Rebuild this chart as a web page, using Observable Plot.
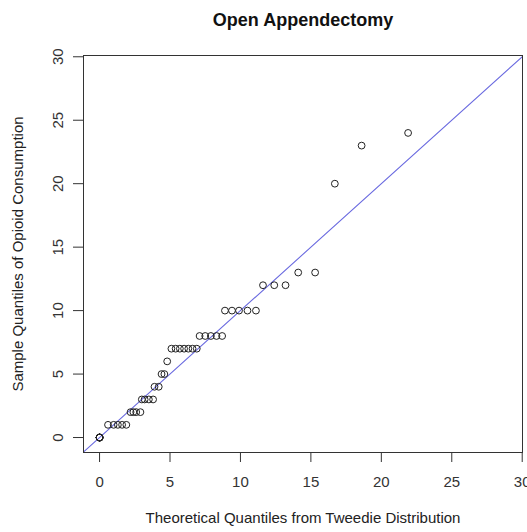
<!DOCTYPE html>
<html>
<head>
<meta charset="utf-8">
<script src="https://cdn.jsdelivr.net/npm/d3@7"></script>
<script src="https://cdn.jsdelivr.net/npm/@observablehq/plot@0.6"></script>
<style>
  html, body { margin: 0; padding: 0; background: #fff; overflow: hidden; }
  svg { font-family: "Liberation Sans", Arial, sans-serif; }
</style>
</head>
<body>
<div id="chart"></div>
<script>
const title = "Open Appendectomy";
const xLabel = "Theoretical Quantiles from Tweedie Distribution";
const yLabel = "Sample Quantiles of Opioid Consumption";
const xTicks = [0, 5, 10, 15, 20, 25, 30];
const yTicks = [0, 5, 10, 15, 20, 25, 30];

// theoretical quantiles (x) and sample quantiles (y)
const theoretical = [
  0, 0, 0, 0, 0, 0, 0, 0,
  0.6, 1.0, 1.3, 1.6, 1.9,
  2.2, 2.4, 2.6, 2.9,
  3.0, 3.2, 3.5, 3.8,
  3.9, 4.2,
  4.4, 4.6,
  4.8,
  5.1, 5.4, 5.7, 6.0, 6.3, 6.6, 6.9,
  7.1, 7.5, 7.9, 8.3, 8.7,
  8.9, 9.4, 9.9, 10.5, 11.1,
  11.6, 12.4, 13.2,
  14.1, 15.3,
  16.7, 18.6, 21.9
];
const sample = [
  0, 0, 0, 0, 0, 0, 0, 0,
  1, 1, 1, 1, 1,
  2, 2, 2, 2,
  3, 3, 3, 3,
  4, 4,
  5, 5,
  6,
  7, 7, 7, 7, 7, 7, 7,
  8, 8, 8, 8, 8,
  10, 10, 10, 10, 10,
  12, 12, 12,
  13, 13,
  20, 23, 24
];
const refLine = [-5, 35]; // y = x reference line

const points = theoretical.map((t, i) => ({t, s: sample[i]}));

const chart = Plot.plot({
  width: 527,
  height: 532,
  marginLeft: 83,
  marginRight: 5,
  marginTop: 55,
  marginBottom: 80,
  style: {fontFamily: '"Liberation Sans", Arial, sans-serif', fontSize: "15px", color: "#222", overflow: "hidden"},
  x: {domain: [-1.14, 30.02]},
  y: {domain: [-1.18, 30.1]},
  marks: [
    Plot.line(refLine, {x: d => d, y: d => d, stroke: "#6b6be0", strokeWidth: 1.1, clip: true}),
    Plot.dot(points, {x: "t", y: "s", r: 3.4, stroke: "#222", strokeWidth: 1, fill: "none"}),
    Plot.frame({stroke: "#333", strokeWidth: 1}),
    Plot.axisX({ticks: xTicks, tickSize: 10, tickPadding: 14, label: null, fontSize: 15, stroke: "#333", fill: "#333"}),
    Plot.axisY({ticks: yTicks, tickSize: 10, label: null, text: null, stroke: "#333"}),
    Plot.text(yTicks, {y: d => d, text: d => String(d), frameAnchor: "left", dx: -25, rotate: -90, textAnchor: "middle", lineAnchor: "middle", fontSize: 15, fill: "#333"}),
    Plot.text([title], {text: d => d, frameAnchor: "top", dy: -35, fontSize: 18, fontWeight: "bold", fill: "#111", textAnchor: "middle", lineAnchor: "middle"}),
    Plot.text([xLabel], {text: d => d, frameAnchor: "bottom", dy: 66, fontSize: 15, fill: "#222", textAnchor: "middle", lineAnchor: "middle"}),
    Plot.text([yLabel], {text: d => d, frameAnchor: "left", dx: -65, rotate: -90, fontSize: 15, fill: "#222", textAnchor: "middle", lineAnchor: "middle"})
  ]
});
document.getElementById("chart").appendChild(chart);
</script>
</body>
</html>
